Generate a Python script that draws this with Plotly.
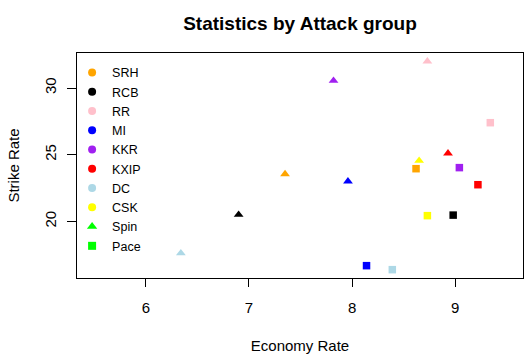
import plotly.graph_objects as go

teams = ["SRH", "RCB", "RR", "MI", "KKR", "KXIP", "DC", "CSK"]
team_colors = ["#FFA500", "#000000", "#FFC0CB", "#0000FF", "#A020F0", "#FF0000", "#ADD8E6", "#FFFF00"]

spin_economy = [7.35, 6.90, 8.73, 7.96, 7.82, 8.93, 6.34, 8.65]
spin_strike = [23.55, 20.50, 32.00, 23.00, 30.55, 25.10, 17.62, 24.55]

pace_economy = [8.62, 8.98, 9.34, 8.14, 9.04, 9.22, 8.39, 8.73]
pace_strike = [23.95, 20.47, 27.40, 16.68, 24.03, 22.75, 16.38, 20.43]

groups = ["Spin", "Pace"]
group_color = "#00FF00"

x_ticks = [6, 7, 8, 9]
y_ticks = [20, 25, 30]

fig = go.Figure()

fig.add_trace(go.Scatter(
    x=spin_economy, y=spin_strike, mode="markers",
    marker=dict(symbol="triangle-up", size=8.5, color=team_colors, line=dict(width=0)),
    showlegend=False, hoverinfo="skip"))
fig.add_trace(go.Scatter(
    x=pace_economy, y=pace_strike, mode="markers",
    marker=dict(symbol="square", size=7.5, color=team_colors, line=dict(width=0)),
    showlegend=False, hoverinfo="skip"))

# legend entries
for t, c in zip(teams, team_colors):
    fig.add_trace(go.Scatter(x=[None], y=[None], mode="markers", name=t,
                             marker=dict(symbol="circle", size=8, color=c, line=dict(width=0))))
fig.add_trace(go.Scatter(x=[None], y=[None], mode="markers", name=groups[0],
                         marker=dict(symbol="triangle-up", size=9, color=group_color, line=dict(width=0))))
fig.add_trace(go.Scatter(x=[None], y=[None], mode="markers", name=groups[1],
                         marker=dict(symbol="square", size=8, color=group_color, line=dict(width=0))))

font_family = "Liberation Sans, Arial, sans-serif"

fig.update_layout(
    width=531, height=357,
    margin=dict(l=77, r=8, t=53, b=79),
    paper_bgcolor="white", plot_bgcolor="white",
    font=dict(family=font_family, size=15, color="black"),
    title=dict(text="<b>Statistics by Attack group</b>", x=0.5, xref="paper",
               y=(357 - 23) / 357, yanchor="middle", xanchor="center",
               font=dict(size=19, family=font_family, color="black")),
    legend=dict(x=-0.011, y=0.978, xanchor="left", yanchor="top",
                bgcolor="rgba(0,0,0,0)", borderwidth=0,
                font=dict(size=12.5, family=font_family), itemwidth=30,
                tracegroupgap=0),
    showlegend=True,
)

fig.update_xaxes(range=[5.333, 9.657], tickvals=x_ticks, ticktext=[str(v) for v in x_ticks],
                 showgrid=False, zeroline=False, showline=True, mirror=True, automargin=False,
                 linecolor="black", linewidth=1, ticks="outside", ticklen=8, tickcolor="black",
                 ticklabelstandoff=8,
                 title=dict(text="Economy Rate", standoff=25, font=dict(size=15)))
fig.update_yaxes(range=[15.755, 32.625], tickvals=y_ticks, ticktext=[str(v) for v in y_ticks],
                 showgrid=False, zeroline=False, showline=True, mirror=True, automargin=False,
                 linecolor="black", linewidth=1, ticks="outside", ticklen=9, tickcolor="black",
                 tickangle=-90, ticklabelstandoff=5,
                 title=dict(text="Strike Rate", standoff=18, font=dict(size=15)))

fig.write_html("out.html", config={"displayModeBar": False},
               post_script="document.body.style.margin='0';")
